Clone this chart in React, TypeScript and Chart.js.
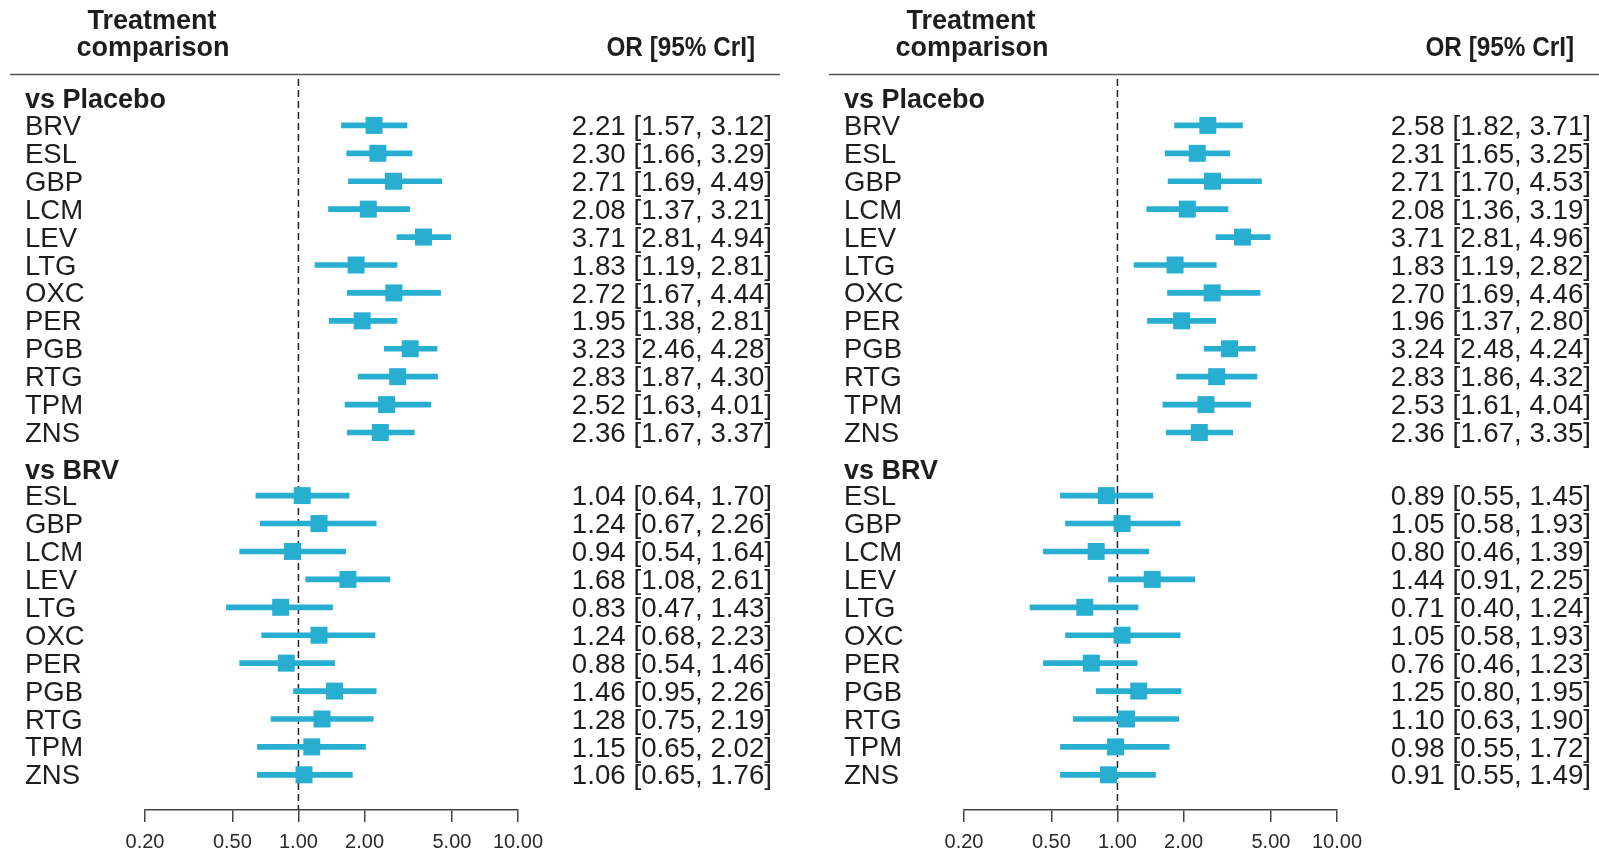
import React, { useEffect, useRef } from "react";
import { Chart, registerables } from "chart.js";

Chart.register(...registerables);

// ---------- data ----------
const placeboLabels = ["BRV", "ESL", "GBP", "LCM", "LEV", "LTG", "OXC", "PER", "PGB", "RTG", "TPM", "ZNS"];
const brvLabels = ["ESL", "GBP", "LCM", "LEV", "LTG", "OXC", "PER", "PGB", "RTG", "TPM", "ZNS"];
const tickValues = [0.2, 0.5, 1, 2, 5, 10];

// Left panel
const leftPlaceboOR = [2.21, 2.3, 2.71, 2.08, 3.71, 1.83, 2.72, 1.95, 3.23, 2.83, 2.52, 2.36];
const leftPlaceboLo = [1.57, 1.66, 1.69, 1.37, 2.81, 1.19, 1.67, 1.38, 2.46, 1.87, 1.63, 1.67];
const leftPlaceboHi = [3.12, 3.29, 4.49, 3.21, 4.94, 2.81, 4.44, 2.81, 4.28, 4.3, 4.01, 3.37];
const leftBrvOR = [1.04, 1.24, 0.94, 1.68, 0.83, 1.24, 0.88, 1.46, 1.28, 1.15, 1.06];
const leftBrvLo = [0.64, 0.67, 0.54, 1.08, 0.47, 0.68, 0.54, 0.95, 0.75, 0.65, 0.65];
const leftBrvHi = [1.7, 2.26, 1.64, 2.61, 1.43, 2.23, 1.46, 2.26, 2.19, 2.02, 1.76];

// Right panel
const rightPlaceboOR = [2.58, 2.31, 2.71, 2.08, 3.71, 1.83, 2.7, 1.96, 3.24, 2.83, 2.53, 2.36];
const rightPlaceboLo = [1.82, 1.65, 1.7, 1.36, 2.81, 1.19, 1.69, 1.37, 2.48, 1.86, 1.61, 1.67];
const rightPlaceboHi = [3.71, 3.25, 4.53, 3.19, 4.96, 2.82, 4.46, 2.8, 4.24, 4.32, 4.04, 3.35];
const rightBrvOR = [0.89, 1.05, 0.8, 1.44, 0.71, 1.05, 0.76, 1.25, 1.1, 0.98, 0.91];
const rightBrvLo = [0.55, 0.58, 0.46, 0.91, 0.4, 0.58, 0.46, 0.8, 0.63, 0.55, 0.55];
const rightBrvHi = [1.45, 1.93, 1.39, 2.25, 1.24, 1.93, 1.23, 1.95, 1.9, 1.72, 1.49];

// ---------- style / layout ----------
const FONT = '"Liberation Sans", Arial, Helvetica, sans-serif';
const BLUE = "#27AED0";
const TEXT = "#1e1e1e";
const PLACEBO_HEADER_ROW = 0.055;
const BRV_HEADER_ROW = 13.31;
const BRV_FIRST_ROW = 14.26;
const TY = 2; // text vertical nudge

type PanelData = {
  pOR: number[]; pLo: number[]; pHi: number[];
  bOR: number[]; bLo: number[]; bHi: number[];
};

const fmt = (m: number, lo: number, hi: number) =>
  `${m.toFixed(2)} [${lo.toFixed(2)}, ${hi.toFixed(2)}]`;

function Panel({ data, canvasLeft, canvasWidth, dx }: { data: PanelData; canvasLeft: number; canvasWidth: number; dx: number }) {
  const ref = useRef<HTMLCanvasElement | null>(null);

  useEffect(() => {
    if (!ref.current) return;
    const rows: { label: string; row: number; m: number; lo: number; hi: number }[] = [];
    placeboLabels.forEach((l, i) =>
      rows.push({ label: l, row: i + 1, m: data.pOR[i], lo: data.pLo[i], hi: data.pHi[i] })
    );
    brvLabels.forEach((l, i) =>
      rows.push({ label: l, row: BRV_FIRST_ROW + i, m: data.bOR[i], lo: data.bLo[i], hi: data.bHi[i] })
    );

    const axisLeft = 145 + dx;
    const axisRight = 518 + dx;

    const textPlugin = {
      id: "forestText",
      beforeDatasetsDraw(chart: any) {
        const ctx = chart.ctx;
        const xs = chart.scales.x;
        const px = xs.getPixelForValue(1);
        ctx.save();
        ctx.strokeStyle = "#222";
        ctx.lineWidth = 1.5;
        ctx.setLineDash([7, 4]);
        ctx.beginPath();
        ctx.moveTo(px, 79);
        ctx.lineTo(px, chart.chartArea.bottom);
        ctx.stroke();
        ctx.restore();
      },
      afterDraw(chart: any) {
        const ctx = chart.ctx;
        const ys = chart.scales.y;
        ctx.save();
        ctx.fillStyle = TEXT;
        ctx.textBaseline = "middle";
        // header
        ctx.font = `bold 27px ${FONT}`;
        ctx.textAlign = "center";
        ctx.fillText("Treatment", 152 + dx, 20 + TY);
        ctx.fillText("comparison", 153 + dx, 47 + TY);
        // OR header: slightly condensed bold
        ctx.save();
        ctx.textAlign = "right";
        ctx.font = `bold 27px ${FONT}`;
        const sx = 0.9;
        ctx.translate(755 + dx, 47 + TY);
        ctx.scale(sx, 1);
        ctx.fillText("OR [95% CrI]", 0, 0);
        ctx.restore();
        // header rule
        ctx.strokeStyle = "#555";
        ctx.lineWidth = 1.5;
        ctx.beginPath();
        ctx.moveTo(10 + dx, 74.5);
        ctx.lineTo(780 + dx, 74.5);
        ctx.stroke();
        // section headers
        ctx.font = `bold 27px ${FONT}`;
        ctx.textAlign = "left";
        ctx.fillText("vs Placebo", 25 + dx, ys.getPixelForValue(PLACEBO_HEADER_ROW) + TY);
        ctx.fillText("vs BRV", 25 + dx, ys.getPixelForValue(BRV_HEADER_ROW) + TY);
        // rows
        rows.forEach((r) => {
          const y = ys.getPixelForValue(r.row) + TY;
          ctx.font = `27.5px ${FONT}`;
          ctx.textAlign = "left";
          ctx.fillText(r.label, 25 + dx, y);
          ctx.font = `27.7px ${FONT}`;
          ctx.textAlign = "right";
          ctx.fillText(fmt(r.m, r.lo, r.hi), 772 + dx, y);
        });
        ctx.restore();
      },
    };

    const chart = new Chart(ref.current, {
      type: "bar",
      data: {
        datasets: [
          {
            type: "scatter",
            data: rows.map((r) => ({ x: r.m, y: r.row })),
            backgroundColor: BLUE,
            borderWidth: 0,
            pointStyle: "rect",
            pointRadius: 12,
            pointHoverRadius: 12,
            order: 1,
          } as any,
          {
            type: "bar",
            indexAxis: "y",
            data: rows.map((r) => ({ x: [r.lo, r.hi], y: r.row })),
            backgroundColor: BLUE,
            borderWidth: 0,
            barThickness: 5,
            order: 2,
          } as any,
        ],
      },
      options: {
        animation: false,
        responsive: false,
        maintainAspectRatio: false,
        events: [],
        layout: { padding: { left: axisLeft, right: canvasWidth - axisRight, top: 75, bottom: 0 } },
        plugins: { legend: { display: false }, tooltip: { enabled: false } },
        scales: {
          x: {
            type: "logarithmic",
            position: "bottom",
            offset: false,
            min: 0.2,
            max: 10,
            afterBuildTicks: (scale: any) => {
              scale.ticks = tickValues.map((v) => ({ value: v }));
            },
            afterFit: (scale: any) => {
              scale.height = 41;
            },
            ticks: {
              autoSkip: false,
              maxRotation: 0,
              padding: 8,
              color: "#2a2a2a",
              font: { family: FONT, size: 20 },
              callback: (v: any) => Number(v).toFixed(2),
            },
            grid: { offset: false, drawOnChartArea: false, drawTicks: true, tickLength: 12, color: "#444", lineWidth: 1.5 },
            border: { display: true, color: "#444", width: 1.5 },
          },
          y: {
            type: "linear",
            display: false,
            offset: false,
            grid: { offset: false },
            reverse: true,
            min: -0.805,
            max: 25.52,
          },
        },
      } as any,
      plugins: [textPlugin],
    });
    return () => chart.destroy();
  }, [data, dx, canvasWidth]);

  return (
    <canvas
      ref={ref}
      width={canvasWidth}
      height={851}
      style={{ position: "absolute", left: canvasLeft, top: 0, width: canvasWidth, height: 851 }}
    />
  );
}

const leftData: PanelData = {
  pOR: leftPlaceboOR, pLo: leftPlaceboLo, pHi: leftPlaceboHi,
  bOR: leftBrvOR, bLo: leftBrvLo, bHi: leftBrvHi,
};
const rightData: PanelData = {
  pOR: rightPlaceboOR, pLo: rightPlaceboLo, pHi: rightPlaceboHi,
  bOR: rightBrvOR, bLo: rightBrvLo, bHi: rightBrvHi,
};

export default function App() {
  return (
    <div style={{ position: "absolute", left: 0, top: 0, width: 1599, height: 851, background: "#fff", overflow: "hidden" }}>
      <Panel data={leftData} canvasLeft={0} canvasWidth={800} dx={0} />
      <Panel data={rightData} canvasLeft={800} canvasWidth={799} dx={19} />
    </div>
  );
}
